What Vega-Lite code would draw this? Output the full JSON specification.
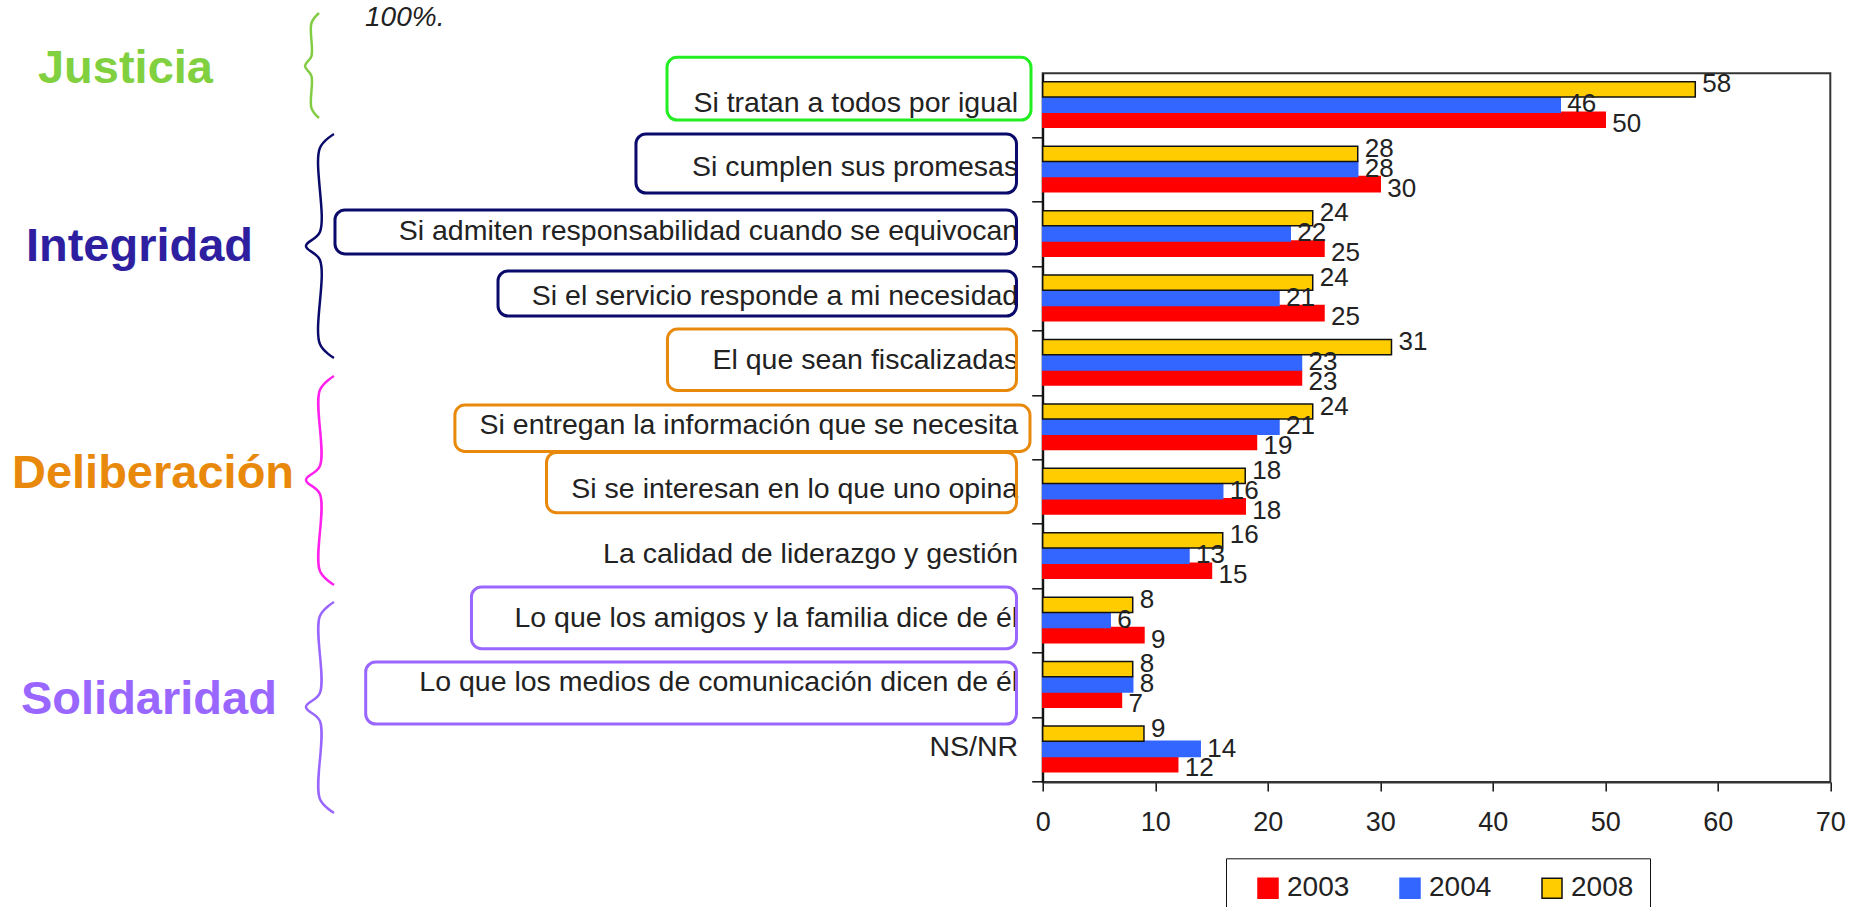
{
  "$schema": "https://vega.github.io/schema/vega-lite/v6.json",
  "width": 787.6,
  "height": 708.7,
  "autosize": {"type": "none"},
  "padding": {"left": 1042.7, "top": 73.3, "right": 27.7, "bottom": 125},
  "background": "white",
  "config": {
    "font": "Liberation Sans",
    "view": {"stroke": "#333333", "strokeWidth": 2},
    "axis": {"grid": false},
    "axisX": {"domainColor": "#333333", "domainWidth": 2, "tickColor": "#111111", "tickWidth": 1.5, "tickSize": 9, "labelFontSize": 27, "labelColor": "#222222", "labelPadding": 18, "labelFlush": false},
    "axisY": {"domainColor": "#111111", "domainWidth": 2, "tickColor": "#111111", "tickWidth": 1.5, "tickSize": 11, "labelFontSize": 28.5, "labelColor": "#222222", "labelPadding": 14, "labelLimit": 0}
  },
  "datasets": {
    "bars": [
      {"cat": "Si tratan a todos por igual", "year": "2003", "value": 50},
      {"cat": "Si tratan a todos por igual", "year": "2004", "value": 46},
      {"cat": "Si tratan a todos por igual", "year": "2008", "value": 58},
      {"cat": "Si cumplen sus promesas", "year": "2003", "value": 30},
      {"cat": "Si cumplen sus promesas", "year": "2004", "value": 28},
      {"cat": "Si cumplen sus promesas", "year": "2008", "value": 28},
      {"cat": "Si admiten responsabilidad cuando se equivocan", "year": "2003", "value": 25},
      {"cat": "Si admiten responsabilidad cuando se equivocan", "year": "2004", "value": 22},
      {"cat": "Si admiten responsabilidad cuando se equivocan", "year": "2008", "value": 24},
      {"cat": "Si el servicio  responde a mi necesidad", "year": "2003", "value": 25},
      {"cat": "Si el servicio  responde a mi necesidad", "year": "2004", "value": 21},
      {"cat": "Si el servicio  responde a mi necesidad", "year": "2008", "value": 24},
      {"cat": "El que sean fiscalizadas", "year": "2003", "value": 23},
      {"cat": "El que sean fiscalizadas", "year": "2004", "value": 23},
      {"cat": "El que sean fiscalizadas", "year": "2008", "value": 31},
      {"cat": "Si entregan la información que se necesita", "year": "2003", "value": 19},
      {"cat": "Si entregan la información que se necesita", "year": "2004", "value": 21},
      {"cat": "Si entregan la información que se necesita", "year": "2008", "value": 24},
      {"cat": "Si se interesan en lo que uno opina", "year": "2003", "value": 18},
      {"cat": "Si se interesan en lo que uno opina", "year": "2004", "value": 16},
      {"cat": "Si se interesan en lo que uno opina", "year": "2008", "value": 18},
      {"cat": "La calidad de liderazgo y gestión", "year": "2003", "value": 15},
      {"cat": "La calidad de liderazgo y gestión", "year": "2004", "value": 13},
      {"cat": "La calidad de liderazgo y gestión", "year": "2008", "value": 16},
      {"cat": "Lo que los amigos y la familia dice de él", "year": "2003", "value": 9},
      {"cat": "Lo que los amigos y la familia dice de él", "year": "2004", "value": 6},
      {"cat": "Lo que los amigos y la familia dice de él", "year": "2008", "value": 8},
      {"cat": "Lo que los medios de comunicación dicen de él", "year": "2003", "value": 7},
      {"cat": "Lo que los medios de comunicación dicen de él", "year": "2004", "value": 8},
      {"cat": "Lo que los medios de comunicación dicen de él", "year": "2008", "value": 8},
      {"cat": "NS/NR", "year": "2003", "value": 12},
      {"cat": "NS/NR", "year": "2004", "value": 14},
      {"cat": "NS/NR", "year": "2008", "value": 9}
    ],
    "boxes": [
      {"group": "Justicia", "x1": -33.39, "x2": -1.04, "y1": -0.248, "y2": 0.725},
      {"group": "Integridad", "x1": -36.15, "x2": -2.33, "y1": 0.942, "y2": 1.858},
      {"group": "Integridad", "x1": -62.9, "x2": -2.33, "y1": 2.121, "y2": 2.804},
      {"group": "Integridad", "x1": -48.41, "x2": -2.33, "y1": 3.068, "y2": 3.767},
      {"group": "Deliberación", "x1": -33.35, "x2": -2.33, "y1": 3.969, "y2": 4.923},
      {"group": "Deliberación", "x1": -52.24, "x2": -1.13, "y1": 5.149, "y2": 5.87},
      {"group": "Deliberación", "x1": -44.1, "x2": -2.33, "y1": 5.885, "y2": 6.82},
      {"group": "Solidaridad", "x1": -50.77, "x2": -2.33, "y1": 7.973, "y2": 8.931},
      {"group": "Solidaridad", "x1": -60.17, "x2": -2.33, "y1": 9.137, "y2": 10.1}
    ],
    "braces": [
      {"group": "Justicia", "order": 1, "x": -64.32, "y": -0.936},
      {"group": "Justicia", "order": 2, "x": -64.99, "y": -0.781},
      {"group": "Justicia", "order": 3, "x": -64.99, "y": -0.268},
      {"group": "Justicia", "order": 4, "x": -65.57, "y": -0.113},
      {"group": "Justicia", "order": 5, "x": -64.99, "y": 0.042},
      {"group": "Justicia", "order": 6, "x": -64.99, "y": 0.539},
      {"group": "Justicia", "order": 7, "x": -64.32, "y": 0.694},
      {"group": "Integridad", "order": 1, "x": -62.99, "y": 0.942},
      {"group": "Integridad", "order": 2, "x": -64.24, "y": 1.159},
      {"group": "Integridad", "order": 3, "x": -64.24, "y": 2.463},
      {"group": "Integridad", "order": 4, "x": -65.48, "y": 2.68},
      {"group": "Integridad", "order": 5, "x": -64.24, "y": 2.897},
      {"group": "Integridad", "order": 6, "x": -64.24, "y": 4.202},
      {"group": "Integridad", "order": 7, "x": -62.99, "y": 4.419},
      {"group": "Deliberación", "order": 1, "x": -62.99, "y": 4.698},
      {"group": "Deliberación", "order": 2, "x": -64.24, "y": 4.915},
      {"group": "Deliberación", "order": 3, "x": -64.24, "y": 6.095},
      {"group": "Deliberación", "order": 4, "x": -65.48, "y": 6.312},
      {"group": "Deliberación", "order": 5, "x": -64.24, "y": 6.529},
      {"group": "Deliberación", "order": 6, "x": -64.24, "y": 7.725},
      {"group": "Deliberación", "order": 7, "x": -62.99, "y": 7.942},
      {"group": "Solidaridad", "order": 1, "x": -62.99, "y": 8.206},
      {"group": "Solidaridad", "order": 2, "x": -64.24, "y": 8.423},
      {"group": "Solidaridad", "order": 3, "x": -64.24, "y": 9.619},
      {"group": "Solidaridad", "order": 4, "x": -65.48, "y": 9.836},
      {"group": "Solidaridad", "order": 5, "x": -64.24, "y": 10.053},
      {"group": "Solidaridad", "order": 6, "x": -64.24, "y": 11.263},
      {"group": "Solidaridad", "order": 7, "x": -62.99, "y": 11.48}
    ],
    "titles": [
      {"group": "Justicia", "x": -89.3, "y": 0.155},
      {"group": "Integridad", "x": -90.37, "y": 2.913},
      {"group": "Deliberación", "x": -91.61, "y": 6.437},
      {"group": "Solidaridad", "x": -90.81, "y": 9.944}
    ],
    "note": [
      {"text": "100%.", "x": -60.23, "y": -0.734}
    ]
  },
  "resolve": {"scale": {"y": "independent", "yOffset": "independent", "stroke": "independent", "fill": "independent"}},
  "layer": [
    {
      "data": {"name": "bars"},
      "mark": {"type": "bar", "strokeWidth": 1.5},
      "encoding": {
        "y": {
          "field": "cat", "type": "nominal", "title": null,
          "sort": ["Si tratan a todos por igual", "Si cumplen sus promesas", "Si admiten responsabilidad cuando se equivocan", "Si el servicio  responde a mi necesidad", "El que sean fiscalizadas", "Si entregan la información que se necesita", "Si se interesan en lo que uno opina", "La calidad de liderazgo y gestión", "Lo que los amigos y la familia dice de él", "Lo que los medios de comunicación dicen de él", "NS/NR"],
          "scale": {"paddingInner": 0, "paddingOuter": 0},
          "axis": {"bandPosition": 1, "labelOffset": -3}
        },
        "yOffset": {"field": "year", "type": "nominal", "sort": ["2008", "2004", "2003"], "scale": {"paddingInner": 0, "paddingOuter": 0.62, "align": 0.45}},
        "x": {"field": "value", "type": "quantitative", "title": null, "scale": {"domain": [0, 70], "nice": false}, "axis": {"values": [0, 10, 20, 30, 40, 50, 60, 70]}},
        "fill": {
          "field": "year", "type": "nominal",
          "scale": {"domain": ["2003", "2004", "2008"], "range": ["#FF0000", "#3366FF", "#FFCC00"]},
          "legend": {"orient": "none", "legendX": 183.3, "legendY": 785, "direction": "horizontal", "title": null, "strokeColor": "#111111", "padding": 16, "symbolOffset": 12, "symbolType": "square", "symbolSize": 400, "symbolStrokeWidth": 1.5, "labelFontSize": 28, "labelColor": "#222222", "labelOffset": 5, "columnPadding": 34, "labelExpr": "datum.label + '   '"}
        },
        "stroke": {
          "field": "year", "type": "nominal",
          "scale": {"domain": ["2003", "2004", "2008"], "range": ["#FF0000", "#3366FF", "#111111"]},
          "legend": {"orient": "none", "legendX": 183.3, "legendY": 785, "direction": "horizontal", "title": null, "strokeColor": "#111111", "padding": 16, "symbolOffset": 12, "symbolType": "square", "symbolSize": 400, "symbolStrokeWidth": 1.5, "labelFontSize": 28, "labelColor": "#222222", "labelOffset": 5, "columnPadding": 34, "labelExpr": "datum.label + '   '"}
        }
      }
    },
    {
      "data": {"name": "bars"},
      "mark": {"type": "text", "align": "left", "baseline": "middle", "dx": 7, "fontSize": 26, "fill": "#222222"},
      "encoding": {
        "y": {
          "field": "cat", "type": "nominal", "title": null,
          "sort": ["Si tratan a todos por igual", "Si cumplen sus promesas", "Si admiten responsabilidad cuando se equivocan", "Si el servicio  responde a mi necesidad", "El que sean fiscalizadas", "Si entregan la información que se necesita", "Si se interesan en lo que uno opina", "La calidad de liderazgo y gestión", "Lo que los amigos y la familia dice de él", "Lo que los medios de comunicación dicen de él", "NS/NR"],
          "scale": {"paddingInner": 0, "paddingOuter": 0},
          "axis": null
        },
        "yOffset": {"field": "year", "type": "nominal", "sort": ["2008", "2004", "2003"], "scale": {"paddingInner": 0, "paddingOuter": 0.62, "align": 0.45}},
        "x": {"field": "value", "type": "quantitative", "title": null, "scale": {"domain": [0, 70], "nice": false}},
        "text": {"field": "value", "type": "quantitative"}
      }
    },
    {
      "data": {"name": "boxes"},
      "mark": {"type": "rect", "filled": false, "cornerRadius": 10, "strokeWidth": 3},
      "encoding": {
        "x": {"field": "x1", "type": "quantitative", "title": null, "scale": {"domain": [0, 70], "nice": false}},
        "x2": {"field": "x2"},
        "y": {"field": "y1", "type": "quantitative", "title": null, "scale": {"domain": [0, 11], "reverse": true, "nice": false, "zero": false}, "axis": null},
        "y2": {"field": "y2"},
        "stroke": {"field": "group", "type": "nominal", "scale": {"domain": ["Justicia", "Integridad", "Deliberación", "Solidaridad"], "range": ["#22EE22", "#0A0A6B", "#E8890C", "#9966FF"]}, "legend": null}
      }
    },
    {
      "data": {"name": "braces"},
      "mark": {"type": "line", "interpolate": "catmull-rom", "strokeWidth": 2.5},
      "encoding": {
        "x": {"field": "x", "type": "quantitative", "title": null, "scale": {"domain": [0, 70], "nice": false}},
        "y": {"field": "y", "type": "quantitative", "title": null, "scale": {"domain": [0, 11], "reverse": true, "nice": false, "zero": false}, "axis": null},
        "order": {"field": "order", "type": "quantitative"},
        "stroke": {"field": "group", "type": "nominal", "scale": {"domain": ["Justicia", "Integridad", "Deliberación", "Solidaridad"], "range": ["#82CC44", "#0A0A6B", "#FF22EE", "#9966FF"]}, "legend": null}
      }
    },
    {
      "data": {"name": "titles"},
      "mark": {"type": "text", "align": "left", "baseline": "alphabetic", "fontSize": 47, "fontWeight": "bold"},
      "encoding": {
        "x": {"field": "x", "type": "quantitative", "title": null, "scale": {"domain": [0, 70], "nice": false}},
        "y": {"field": "y", "type": "quantitative", "title": null, "scale": {"domain": [0, 11], "reverse": true, "nice": false, "zero": false}, "axis": null},
        "text": {"field": "group", "type": "nominal"},
        "fill": {"field": "group", "type": "nominal", "scale": {"domain": ["Justicia", "Integridad", "Deliberación", "Solidaridad"], "range": ["#80D040", "#2E1FA0", "#E8890C", "#9966FF"]}, "legend": null}
      }
    },
    {
      "data": {"name": "note"},
      "mark": {"type": "text", "align": "left", "baseline": "alphabetic", "fontSize": 28, "fontStyle": "italic", "fill": "#222222"},
      "encoding": {
        "x": {"field": "x", "type": "quantitative", "title": null, "scale": {"domain": [0, 70], "nice": false}},
        "y": {"field": "y", "type": "quantitative", "title": null, "scale": {"domain": [0, 11], "reverse": true, "nice": false, "zero": false}, "axis": null},
        "text": {"field": "text", "type": "nominal"}
      }
    }
  ]
}
